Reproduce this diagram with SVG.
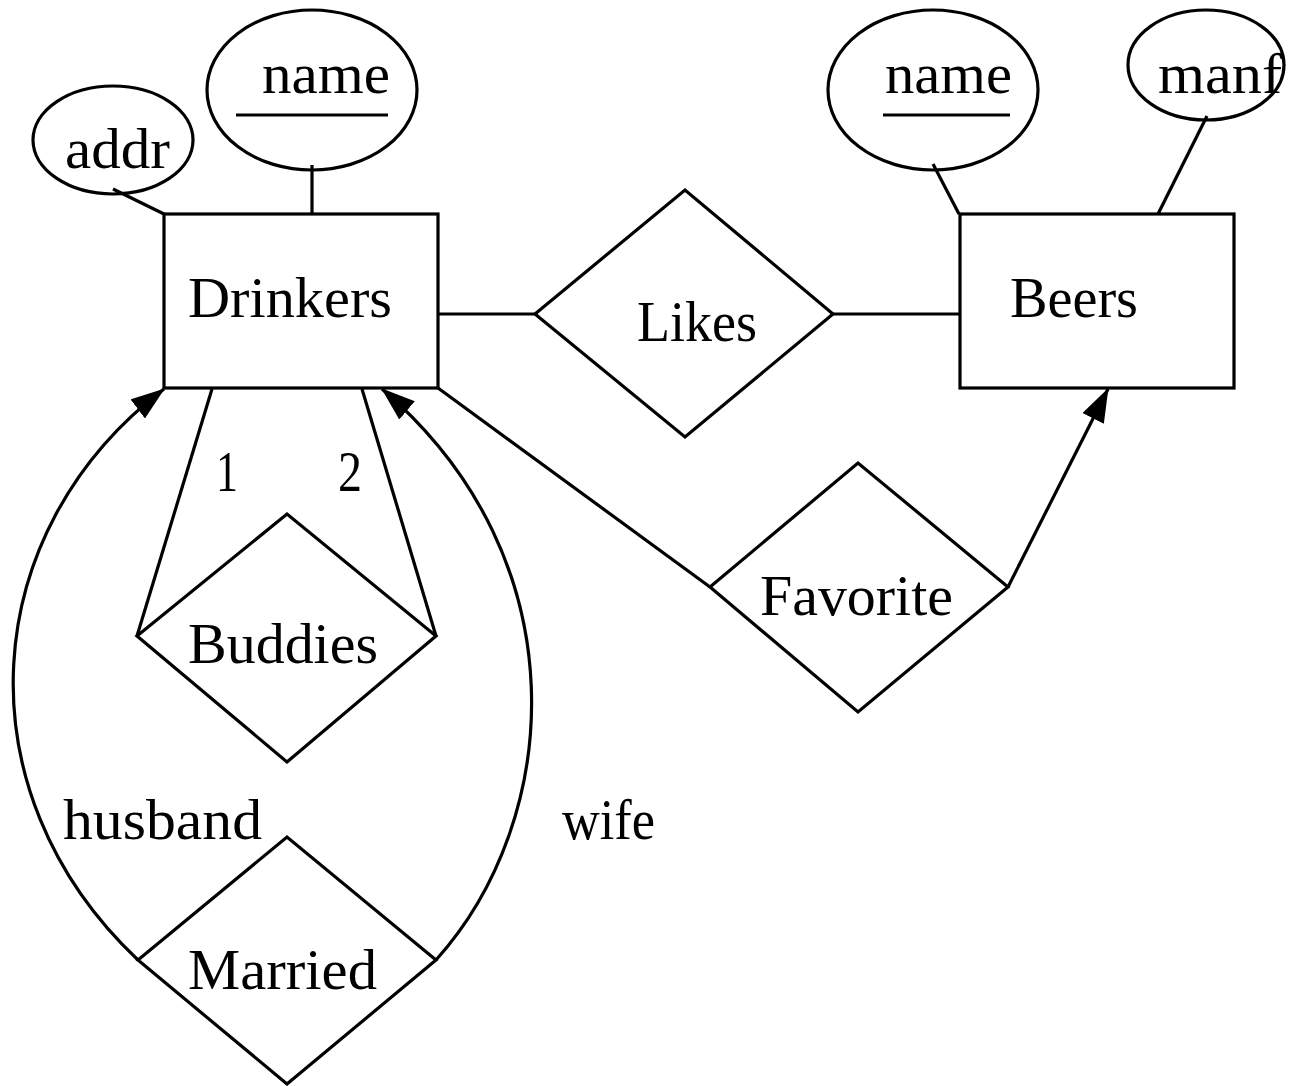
<svg xmlns="http://www.w3.org/2000/svg" width="1294" height="1086" viewBox="0 0 1294 1086">
<style>
.s{fill:none;stroke:#000;stroke-width:3.2;stroke-linejoin:miter}
text{font-family:"Liberation Serif","Times New Roman",serif;font-size:56px;fill:#000}
</style>
<defs>
<marker id="ah" viewBox="0 0 34 24" refX="33" refY="12" markerWidth="34" markerHeight="24" markerUnits="userSpaceOnUse" orient="auto">
<path d="M0,0 L34,12 L0,24 z" fill="#000"/>
</marker>
</defs>
<rect width="1294" height="1086" fill="#fff"/>
<g id="connectors">
<line class="s" x1="113" y1="189" x2="164" y2="214"/>
<line class="s" x1="312" y1="165" x2="312" y2="214"/>
<line class="s" x1="933" y1="164" x2="959" y2="214"/>
<line class="s" x1="1207" y1="116" x2="1158" y2="214"/>
<line class="s" x1="437" y1="314" x2="535" y2="314"/>
<line class="s" x1="833" y1="314" x2="960" y2="314"/>
<line class="s" x1="438" y1="388" x2="710" y2="587"/>
<line class="s" x1="1008" y1="587" x2="1108" y2="389" marker-end="url(#ah)"/>
<line class="s" x1="212" y1="389" x2="137" y2="636"/>
<line class="s" x1="362" y1="389" x2="436" y2="636"/>
<path class="s" d="M138,960 C-42,790 -22,530 164,389" marker-end="url(#ah)"/>
<path class="s" d="M436,960 C562,820 582,560 382,389" marker-end="url(#ah)"/>
<text x="216" y="491" textLength="22" lengthAdjust="spacingAndGlyphs">1</text>
<text x="338" y="491" textLength="24" lengthAdjust="spacingAndGlyphs">2</text>
<text x="63" y="839" textLength="199" lengthAdjust="spacingAndGlyphs">husband</text>
<text x="562" y="839" textLength="93" lengthAdjust="spacingAndGlyphs">wife</text>
</g>
<g id="addr">
<ellipse class="s" cx="113" cy="140" rx="80" ry="54"/>
<text x="65" y="168" textLength="105" lengthAdjust="spacingAndGlyphs">addr</text>
</g>
<g id="drinkers-name">
<ellipse class="s" cx="312" cy="90" rx="105" ry="80"/>
<text x="262" y="93" textLength="128" lengthAdjust="spacingAndGlyphs">name</text>
<line class="s" x1="236" y1="115" x2="388" y2="115"/>
</g>
<g id="beers-name">
<ellipse class="s" cx="933" cy="90" rx="105" ry="80"/>
<text x="885" y="93" textLength="127" lengthAdjust="spacingAndGlyphs">name</text>
<line class="s" x1="883" y1="115" x2="1010" y2="115"/>
</g>
<g id="manf">
<ellipse class="s" cx="1206" cy="65" rx="78" ry="55"/>
<text x="1158" y="93" textLength="124" lengthAdjust="spacingAndGlyphs">manf</text>
</g>
<g id="drinkers">
<rect class="s" x="164" y="214" width="274" height="174"/>
<text x="188" y="317" textLength="204" lengthAdjust="spacingAndGlyphs">Drinkers</text>
</g>
<g id="beers">
<rect class="s" x="960" y="214" width="274" height="174"/>
<text x="1010" y="317" textLength="128" lengthAdjust="spacingAndGlyphs">Beers</text>
</g>
<g id="likes">
<polygon class="s" points="535,314 685,190 833,314 685,437"/>
<text x="637" y="341" textLength="120" lengthAdjust="spacingAndGlyphs">Likes</text>
</g>
<g id="favorite">
<polygon class="s" points="710,587 858,463 1008,587 858,712"/>
<text x="760" y="615" textLength="193" lengthAdjust="spacingAndGlyphs">Favorite</text>
</g>
<g id="buddies">
<polygon class="s" points="137,636 287,514 436,636 287,762"/>
<text x="188" y="663" textLength="190" lengthAdjust="spacingAndGlyphs">Buddies</text>
</g>
<g id="married">
<polygon class="s" points="138,960 287,837 436,960 287,1084"/>
<text x="188" y="989" textLength="189" lengthAdjust="spacingAndGlyphs">Married</text>
</g>
</svg>
